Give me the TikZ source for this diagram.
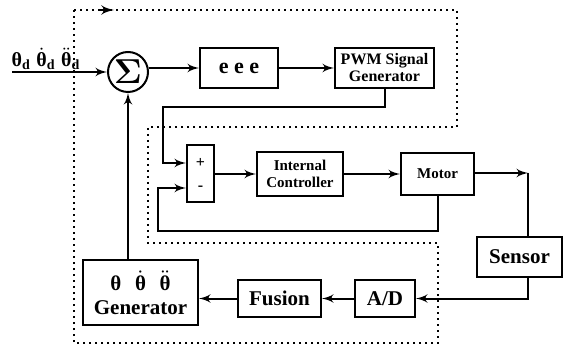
\documentclass[tikz,border=0pt]{standalone}
\usepackage{amsmath,amssymb}
\usepackage{fontspec}
\setmainfont{Liberation Serif}
\usetikzlibrary{shapes,arrows,positioning}

\newcommand{\thd}{\text{θ}}

\begin{document}
\begin{tikzpicture}[
    x=0.5pt, y=-0.5pt,
    node distance=28pt,
    block/.style={rectangle, draw, line width=1pt, inner sep=0pt, align=center, font=\fontsize{10.5}{12}\selectfont\bfseries},
    small/.style={block, font=\fontsize{7.5}{8.5}\selectfont\bfseries},
    line/.style={draw, -latex', line width=1pt},
    border/.style={draw, line width=1pt, dash pattern=on 1pt off 2pt}
]
    \useasboundingbox (0,0) rectangle (565,346);

    % Dotted outline
    \path [border] (74,10) -- (457,10) -- (457,127) -- (148,127) -- (148,243)
        -- (438,243) -- (438,343) -- (74,343) -- cycle;
    \path [draw, -latex', line width=1.2pt] (98,10) -- (114,10);

    % Forward path
    \node [circle, draw, line width=1pt, minimum size=20pt, inner sep=0pt, font=\LARGE] (sum) at (128,72) {$\boldsymbol{\Sigma}$};
    \coordinate (in) at (12,72);
    \node [font=\fontsize{10}{12}\selectfont\bfseries] (ref) at (46,59) {$\thd_{\text{d}}\;\dot{\thd}_{\text{d}}\;\ddot{\thd}_{\text{d}}$};
    \path [line] (in) -- (sum.west);

    \node [block, minimum width=39pt, minimum height=20pt, font=\fontsize{11}{13}\selectfont\bfseries] (eee) at (239,68) {e e e};
    \node [small, minimum width=49.5pt, minimum height=20pt, font=\fontsize{8}{8.5}\selectfont\bfseries, right=27.5pt of eee] (pwm) {PWM Signal\\Generator};
    \path [line] (sum.east |- eee) -- (eee.west);
    \path [line] (eee) -- (pwm);

    % Inner loop
    \node [block, minimum width=13.5pt, minimum height=28.5pt] (pm) at (200.5,173.5) {};
    \node [font=\footnotesize\bfseries] (plus) at (200.5,163) {+};
    \node [font=\footnotesize\bfseries] (minus) at (200.5,188) {-};
    \node [small, minimum width=43pt, minimum height=22pt] (ctrl) at (300,174) {Internal\\Controller};
    \node [small, minimum width=36.5pt, minimum height=21pt, right=28pt of ctrl] (motor) {Motor};
    \node [block, minimum width=42.5pt, minimum height=20pt] (sensor) at (519.5,257) {Sensor};

    \coordinate (c1) at (163,107);
    \coordinate (c2) at (158,231);
    \coordinate (c3) at (528,173);
    \path [line] (pwm.south) |- (c1) |- (pm.west |- plus);
    \path [line] (motor.south) |- (c2) |- (pm.west |- minus);
    \path [line] (pm.east |- ctrl) -- (ctrl.west);
    \path [line] (ctrl) -- (motor);
    \path [line] (motor.east |- c3) -- (c3);
    \draw [line width=1pt] (c3) -- (c3 |- sensor.north);

    % Feedback path
    \node [block, minimum width=57.5pt, minimum height=32.5pt] (gen) at (140.5,292.5) {$\thd\hspace{0.65em}\dot{\thd}\hspace{0.65em}\ddot{\thd}$\\Generator};
    \node [block, minimum width=30pt, minimum height=18.5pt] (ad) at (385,298.5) {A/D};
    \node [block, minimum width=41.5pt, minimum height=18.5pt, left=16pt of ad] (fusion) {Fusion};

    \path [line] (c3 |- sensor.south) |- (ad.east);
    \path [line] (ad) -- (fusion);
    \path [line] (fusion.west) -- (fusion.west -| gen.east);
    \path [line] (sum.south |- gen.north) -- (sum.south);

\end{tikzpicture}
\end{document}
